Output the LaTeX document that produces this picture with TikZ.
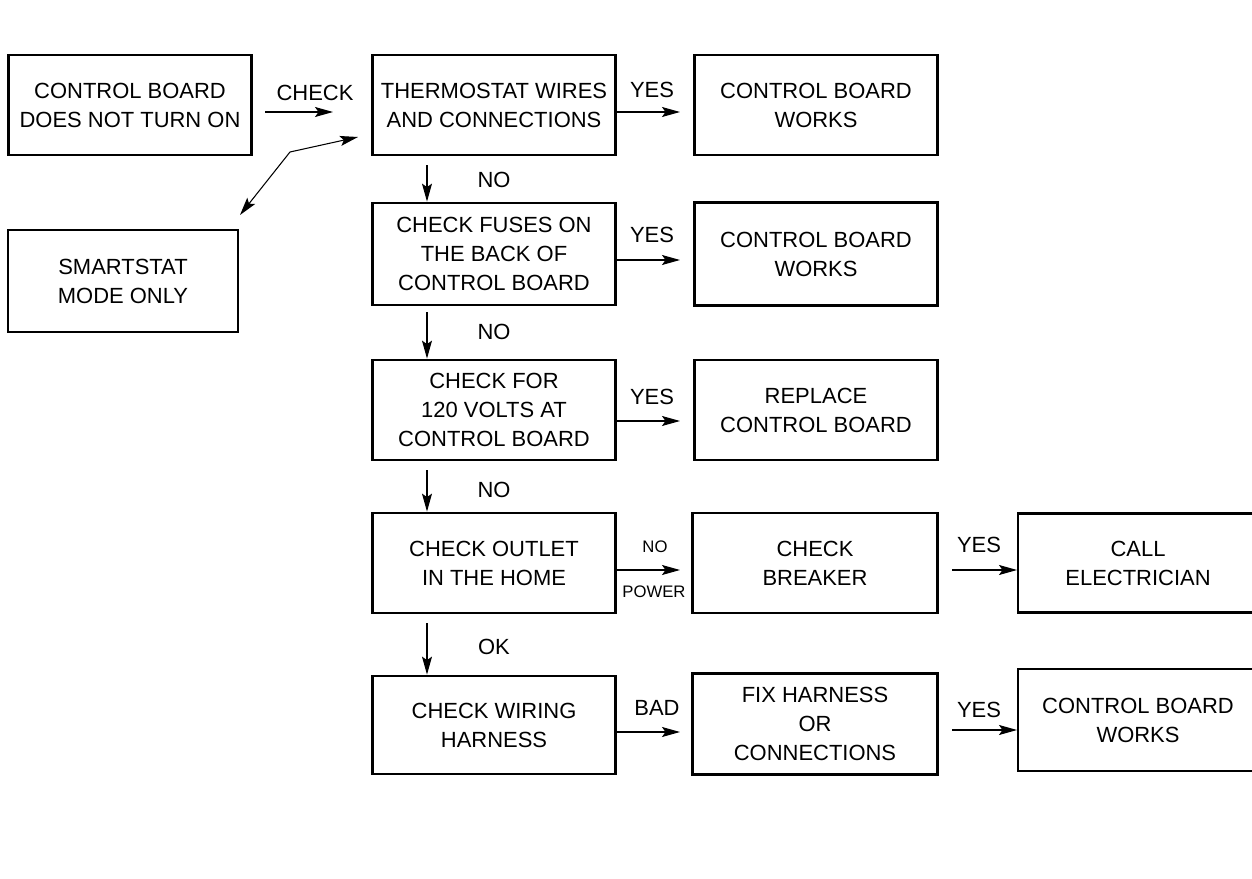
\documentclass[tikz,border=0pt]{standalone}
\usepackage{fontspec}
\setmainfont{Liberation Sans}
\usetikzlibrary{arrows.meta}

\begin{document}
\begin{tikzpicture}[
  x=0.02cm, y=-0.02cm,
  >={Stealth[length=0.36cm, width=0.2cm, inset=0.07cm]},
  stepbox/.style={draw, line width=1.6pt, minimum width=4.86cm, minimum height=2cm,
    align=center, inner sep=1pt, font=\fontsize{12.5}{16.5}\selectfont},
  lbl/.style={inner sep=0pt, font=\fontsize{12.5}{15}\selectfont},
  smalllbl/.style={inner sep=0pt, font=\fontsize{9.5}{11}\selectfont},
  wire/.style={->, line width=0.6pt}
]
\useasboundingbox (0,0) rectangle (1252,879);

% Start
\node[stepbox] (ctrl) at (130,105) {CONTROL BOARD\\DOES NOT TURN ON};
\node[stepbox, minimum width=4.6cm, minimum height=2.04cm] (smart) at (123,281) {SMARTSTAT\\MODE ONLY};

% Main column
\node[stepbox] (thermo) at (494,105) {THERMOSTAT WIRES\\AND CONNECTIONS};
\node[stepbox, minimum height=2.04cm] (fuse) at (494,254) {CHECK FUSES ON\\THE BACK OF\\CONTROL BOARD};
\node[stepbox] (volt) at (494,410) {CHECK FOR\\120 VOLTS AT\\CONTROL BOARD};
\node[stepbox] (outlet) at (494,563) {CHECK OUTLET\\IN THE HOME};
\node[stepbox, minimum height=1.96cm] (harness) at (494,725) {CHECK WIRING\\HARNESS};

% Second column
\node[stepbox] (works_a) at (816,105) {CONTROL BOARD\\WORKS};
\node[stepbox, minimum height=2.06cm] (works_b) at (816,254) {CONTROL BOARD\\WORKS};
\node[stepbox] (replace) at (816,410) {REPLACE\\CONTROL BOARD};
\node[stepbox, minimum width=4.9cm] (breaker) at (815,563) {CHECK\\BREAKER};
\node[stepbox, minimum width=4.9cm, minimum height=2.02cm] (fix) at (815,724) {FIX HARNESS\\OR\\CONNECTIONS};

% Third column
\node[stepbox, minimum width=4.8cm, minimum height=1.98cm] (elec) at (1138,563) {CALL\\ELECTRICIAN};
\node[stepbox, minimum width=4.8cm, minimum height=2.04cm] (works_c) at (1138,720) {CONTROL BOARD\\WORKS};

% Free ends of the connectors
\coordinate (chk_s) at (265,112);
\coordinate (chk_e) at (333,112);
\coordinate (smart_e) at (240,215);
\coordinate (smart_k) at (290,152);
\coordinate (smart_s) at (358,137);
\coordinate (yes_a) at (680,112);
\coordinate (yes_b) at (680,260);
\coordinate (yes_c) at (680,421);
\coordinate (nopow) at (680,570);
\coordinate (bad) at (680,732);
\coordinate (yes_d_s) at (952,570);
\coordinate (yes_d_e) at (1017,570);
\coordinate (yes_e_s) at (952,730);
\coordinate (yes_e_e) at (1017,730);
\coordinate (no_a) at (427,165);
\coordinate (no_b) at (427,312);
\coordinate (no_c) at (427,470);
\coordinate (ok_a) at (427,623);

% Connectors
\draw[wire] (chk_s) -- (chk_e);
\draw[wire, <->] (smart_e) -- (smart_k) -- (smart_s);
\draw[wire] (thermo.east |- yes_a) -- (yes_a);
\draw[wire] (fuse.east |- yes_b) -- (yes_b);
\draw[wire] (volt.east |- yes_c) -- (yes_c);
\draw[wire] (outlet.east |- nopow) -- (nopow);
\draw[wire] (harness.east |- bad) -- (bad);
\draw[wire] (yes_d_s) -- (yes_d_e);
\draw[wire] (yes_e_s) -- (yes_e_e);
\draw[wire] (no_a) -- (fuse.north -| no_a);
\draw[wire] (no_b) -- (volt.north -| no_b);
\draw[wire] (no_c) -- (outlet.north -| no_c);
\draw[wire] (ok_a) -- (harness.north -| ok_a);

% Labels
\node[lbl] (l_check) at (315,93) {CHECK};
\node[lbl] (l_yes_a) at (652,90) {YES};
\node[lbl] (l_yes_b) at (652,235) {YES};
\node[lbl] (l_yes_c) at (652,397) {YES};
\node[smalllbl] (l_no) at (655,547) {NO};
\node[smalllbl] (l_power) at (654,592) {POWER};
\node[lbl] (l_bad) at (657,708) {BAD};
\node[lbl] (l_yes_d) at (979,545) {YES};
\node[lbl] (l_yes_e) at (979,710) {YES};
\node[lbl] (l_no_a) at (494,180) {NO};
\node[lbl] (l_no_b) at (494,332) {NO};
\node[lbl] (l_no_c) at (494,490) {NO};
\node[lbl] (l_ok) at (494,647) {OK};

\end{tikzpicture}
\end{document}
